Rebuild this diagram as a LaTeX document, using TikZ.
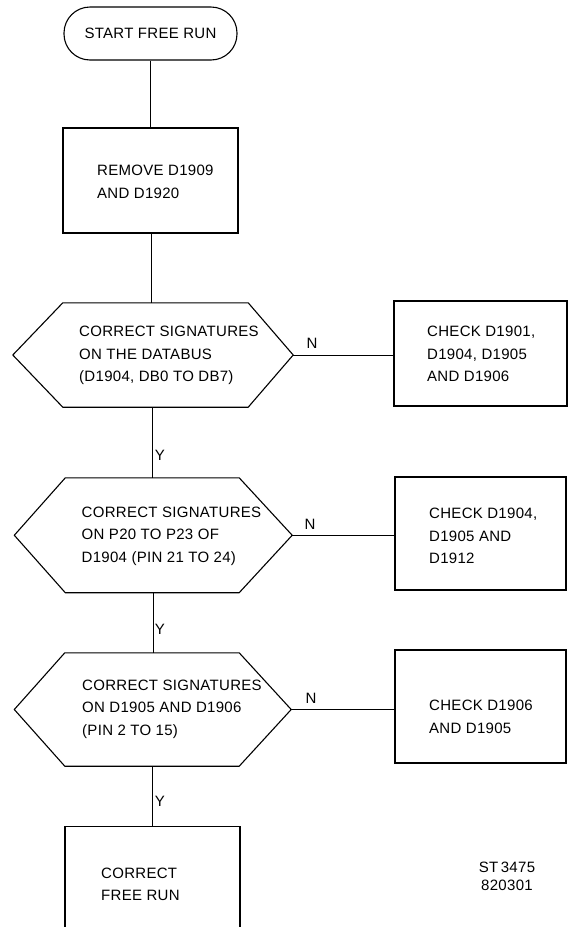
\documentclass[tikz,border=0pt]{standalone}
\usepackage{fontspec}
\setmainfont[LetterSpace=2]{Liberation Sans}
\usetikzlibrary{calc}
\tikzset{
  shapeline/.style={line width=1.1pt},
  conn/.style={line width=0.75pt},
  termbox/.style={draw, shapeline, rounded corners=26pt, minimum width=173pt, minimum height=53pt, inner sep=0pt},
  procbox/.style={draw, shapeline, inner sep=0pt},
  hexnode/.style={inner sep=0pt},
  txt/.style={inner sep=0pt, align=left, anchor=west, font=\fontsize{15}{22.5}\selectfont},
  lbl/.style={inner sep=0pt, font=\fontsize{15}{18}\selectfont},
}
\newcommand\hexoutline[3]{%
  \draw[shapeline] (#1.west) -- ([xshift=#2pt]#1.north west) -- ([xshift=-#3pt]#1.north east)
    -- (#1.east) -- ([xshift=-#3pt]#1.south east) -- ([xshift=#2pt]#1.south west) -- cycle;}
\begin{document}
\begin{tikzpicture}[x=1pt,y=-1pt]
\useasboundingbox (0,0) rectangle (568,927);
\clip (0,0) rectangle (568,927);
% start
\node[termbox, font=\fontsize{15}{18}\selectfont] (start) at (150.5,33.5) {START FREE RUN};
% remove
\node[procbox, minimum width=175pt, minimum height=105pt] (remove) at (150.5,180.5) {};
\node[txt] (tremove) at (97,182) {REMOVE D1909\\AND D1920};
% hex 1
\node[hexnode, minimum width=280pt, minimum height=104pt] (hexa) at (153,355) {};
\hexoutline{hexa}{50}{45}
\node[txt] (thexa) at (79,355.5) {CORRECT SIGNATURES\\ON THE DATABUS\\(D1904, DB0 TO DB7)};
\node[procbox, minimum width=173pt, minimum height=105pt] (boxa) at (480.5,353.5) {};
\node[txt] (tboxa) at (427,354) {CHECK D1901,\\D1904, D1905\\AND D1906};
% hex 2
\node[hexnode, minimum width=277.5pt, minimum height=114.5pt] (hexb) at (153.25,535.25) {};
\hexoutline{hexb}{51}{53}
\node[txt] (thexb) at (81.5,536) {CORRECT SIGNATURES\\ON P20 TO P23 OF\\D1904 (PIN 21 TO 24)};
\node[procbox, minimum width=171pt, minimum height=113pt] (boxb) at (480.5,533.5) {};
\node[txt] (tboxb) at (429,536) {CHECK D1904,\\D1905 AND\\D1912};
% hex 3
\node[hexnode, minimum width=276.5pt, minimum height=113pt] (hexc) at (152.75,709.5) {};
\hexoutline{hexc}{50.5}{52}
\node[txt] (thexc) at (82,709) {CORRECT SIGNATURES\\ON D1905 AND D1906\\(PIN 2 TO 15)};
\node[procbox, minimum width=171pt, minimum height=113pt] (boxc) at (480.5,706.5) {};
\node[txt] (tboxc) at (429,717) {CHECK D1906\\AND D1905};
% final
\node[procbox, minimum width=175pt, minimum height=140pt, anchor=north] (final) at (152.5,826) {};
\node[txt] (tfinal) at (101,884.5) {CORRECT\\FREE RUN};
% reference
\node[lbl, align=center] (ref) at (507,876.5) {ST\,3475\\820301};
% connectors
\draw[conn] (start.south) -- (start.south |- remove.north);
\draw[conn] ([xshift=1pt]remove.south) -- ([xshift=1pt]remove.south |- hexa.north);
\draw[conn] ([xshift=-1pt]hexa.south) -- ([xshift=-1pt]hexa.south |- hexb.north);
\draw[conn] (hexb.south) -- (hexb.south |- hexc.north);
\draw[conn] (hexc.south) -- (hexc.south |- final.north);
\draw[conn] (hexa.east) -- (hexa.east -| boxa.west);
\draw[conn] (hexb.east) -- (hexb.east -| boxb.west);
\draw[conn] (hexc.east) -- (hexc.east -| boxc.west);
% labels
\node[lbl] (na) at (312,343) {N};
\node[lbl] (nb) at (310,524) {N};
\node[lbl] (nc) at (311,698) {N};
\node[lbl] (ya) at (160,455) {Y};
\node[lbl] (yb) at (160,629) {Y};
\node[lbl] (yc) at (160,801) {Y};
\end{tikzpicture}
\end{document}
